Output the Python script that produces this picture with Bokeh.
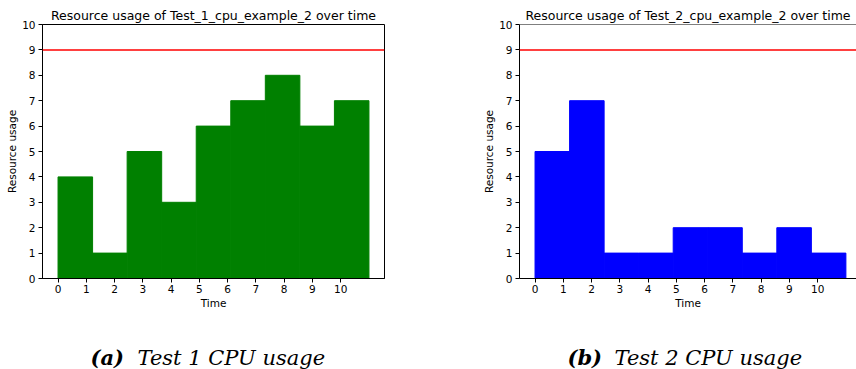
import numpy as np
from bokeh.plotting import figure
from bokeh.models import Span, FixedTicker, Range1d
from bokeh.layouts import row, column
from bokeh.core.properties import value
from bokeh.embed import file_html
from bokeh.resources import INLINE

# ---- data ----
time_start = 0
time_end = 11
n_bins = 9
test1_usage = [4, 1, 5, 3, 6, 7, 8, 6, 7]
test2_usage = [5, 7, 1, 1, 2, 2, 1, 2, 1]
x_ticks = list(range(0, 11))
y_ticks = list(range(0, 11))
capacity = 9
titles = ["Resource usage of Test_1_cpu_example_2 over time",
          "Resource usage of Test_2_cpu_example_2 over time"]
caption_tags = ["(a)", "(b)"]
caption_texts = ["Test 1 CPU usage", "Test 2 CPU usage"]
bar_colors = ["green", "blue"]

FONT = "DejaVu Sans"
SERIF = "DejaVu Serif"
PANEL_H = 312
CAP_H = 369 - PANEL_H


def make_panel(usage, color, title, min_left, min_right, frame_w, x_end, outline):
    p = figure(width=min_left + frame_w + min_right, height=PANEL_H,
               x_range=Range1d(-0.55, x_end), y_range=Range1d(0, 10),
               output_backend="svg", toolbar_location=None,
               min_border_left=min_left, min_border_right=min_right,
               min_border_top=24, min_border_bottom=PANEL_H - 24 - 254, title=title)
    edges = np.linspace(time_start, time_end, n_bins + 1)
    p.quad(left=edges[:-1], right=edges[1:], top=usage, bottom=0,
           fill_color=color, line_color=color, line_width=1)
    p.add_layout(Span(location=capacity, dimension="width", line_color="red", line_width=1.5))

    p.title.align = "center"
    p.title.text_font = FONT
    p.title.text_font_size = "12.5px"
    p.title.text_font_style = "normal"
    p.title.text_color = "black"
    p.title.standoff = 4

    p.xgrid.visible = False
    p.ygrid.visible = False
    if outline:
        p.outline_line_color = "black"
    else:
        p.outline_line_color = None
        p.add_layout(Span(location=10, dimension="width", line_color="black", line_width=1))
    p.xaxis.ticker = FixedTicker(ticks=x_ticks)
    p.yaxis.ticker = FixedTicker(ticks=y_ticks)
    for ax in (p.xaxis, p.yaxis):
        ax.major_tick_out = 4
        ax.major_tick_in = 0
        ax.minor_tick_out = 0
        ax.minor_tick_in = 0
        ax.axis_line_color = "black"
        ax.major_tick_line_color = "black"
        ax.major_label_text_font = FONT
        ax.major_label_text_font_size = "10.5px"
        ax.major_label_text_color = "black"
        ax.axis_label_text_font = FONT
        ax.axis_label_text_font_size = "10.5px"
        ax.axis_label_text_font_style = "normal"
        ax.axis_label_text_color = "black"
    p.xaxis.major_label_standoff = 2
    p.yaxis.major_label_standoff = 3
    p.xaxis.axis_label = "Time"
    p.xaxis.axis_label_standoff = 1
    p.yaxis.axis_label = "Resource usage"
    p.yaxis.axis_label_standoff = 1
    return p


p1 = make_panel(test1_usage, bar_colors[0], titles[0], 42, 64, 342, 11.55, True)
p2 = make_panel(test2_usage, bar_colors[1], titles[1], 71, 0, 337, 11.375, False)

# caption strip below both panels (coordinates in pixels of the strip)
cap = figure(width=856, height=CAP_H, x_range=Range1d(0, 856), y_range=Range1d(0, CAP_H),
             output_backend="svg", toolbar_location=None,
             min_border=0, outline_line_color=None)
cap.axis.visible = False
cap.grid.visible = False
cap.text(x=[90, 567], y=[12, 12], text=caption_tags, text_align="left",
         text_baseline="alphabetic", text_font=value(SERIF),
         text_font_style="bold italic", text_font_size="21px", text_color="black")
cap.text(x=[137, 614], y=[12, 12], text=caption_texts, text_align="left",
         text_baseline="alphabetic", text_font=value(SERIF),
         text_font_style="italic", text_font_size="21px", text_color="black")

layout = column(row(p1, p2), cap)
open("out.html", "w").write(file_html(layout, INLINE))
